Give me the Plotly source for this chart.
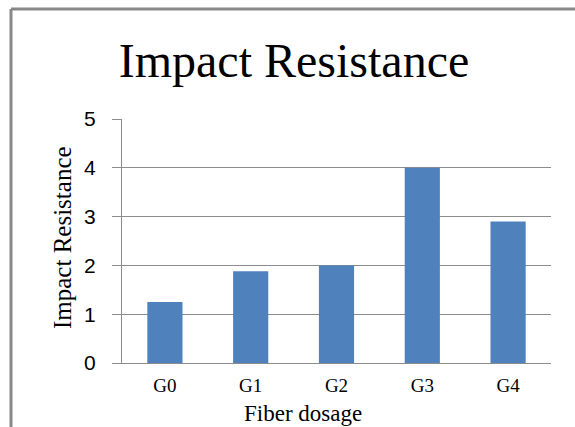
import plotly.graph_objects as go

# Impact resistance by fiber dosage group
groups = ["G0", "G1", "G2", "G3", "G4"]
impact = [1.25, 1.88, 2.0, 4.0, 2.9]
y_ticks = [0, 1, 2, 3, 4, 5]

W, H = 575, 427
L, R, T, B = 122, 24, 119, 64
pw, ph = W - L - R, H - T - B

fig = go.Figure(
    go.Bar(
        x=groups,
        y=impact,
        marker=dict(color="#4F81BD", line=dict(width=0)),
        width=0.41,
    )
)

serif = "Liberation Serif, Times New Roman, serif"
sans = "Liberation Sans, Arial, sans-serif"

fig.update_layout(
    width=W,
    height=H,
    margin=dict(l=L, r=R, t=T, b=B),
    paper_bgcolor="white",
    plot_bgcolor="white",
    showlegend=False,
    title=dict(
        text="Impact Resistance",
        font=dict(family=serif, size=48, color="#000"),
        x=294 / W,
        xanchor="center",
        xref="container",
        y=1 - 60 / H,
        yanchor="middle",
        yref="container",
    ),
    xaxis=dict(
        tickfont=dict(family=serif, size=19, color="#000"),
        showline=True,
        linecolor="#8c8c8c",
        linewidth=1,
        showgrid=False,
        ticks="",
        ticklabelstandoff=5,
    ),
    yaxis=dict(
        range=[0, 5],
        tickvals=y_ticks,
        tickfont=dict(family=sans, size=21, color="#000"),
        showline=True,
        linecolor="#8c8c8c",
        linewidth=1,
        showgrid=True,
        gridcolor="#8c8c8c",
        gridwidth=1,
        ticks="outside",
        ticklen=9,
        tickcolor="#8c8c8c",
        ticklabelstandoff=12,
        zeroline=False,
    ),
    annotations=[
        dict(
            text="Impact Resistance",
            xref="paper",
            yref="paper",
            x=(62 - L) / pw,
            y=(H - B - 237) / ph,
            xanchor="center",
            yanchor="middle",
            textangle=-90,
            showarrow=False,
            font=dict(family=serif, size=25, color="#000"),
        ),
        dict(
            text="Fiber dosage",
            xref="paper",
            yref="paper",
            x=(303 - L) / pw,
            y=-(413 - (H - B)) / ph,
            xanchor="center",
            yanchor="middle",
            showarrow=False,
            font=dict(family=serif, size=23, color="#000"),
        ),
    ],
    shapes=[
        # chart frame (left and top edges)
        dict(
            type="line",
            xref="paper",
            yref="paper",
            x0=(11 - L) / pw,
            x1=(11 - L) / pw,
            y0=-(H + 20 - (H - B)) / ph,
            y1=(H - B - 9) / ph,
            line=dict(color="#888888", width=3),
        ),
        dict(
            type="line",
            xref="paper",
            yref="paper",
            x0=(11 - L) / pw,
            x1=(W + 20 - L) / pw,
            y0=(H - B - 9) / ph,
            y1=(H - B - 9) / ph,
            line=dict(color="#888888", width=3),
        ),
    ],
)

fig.write_html("out.html")
